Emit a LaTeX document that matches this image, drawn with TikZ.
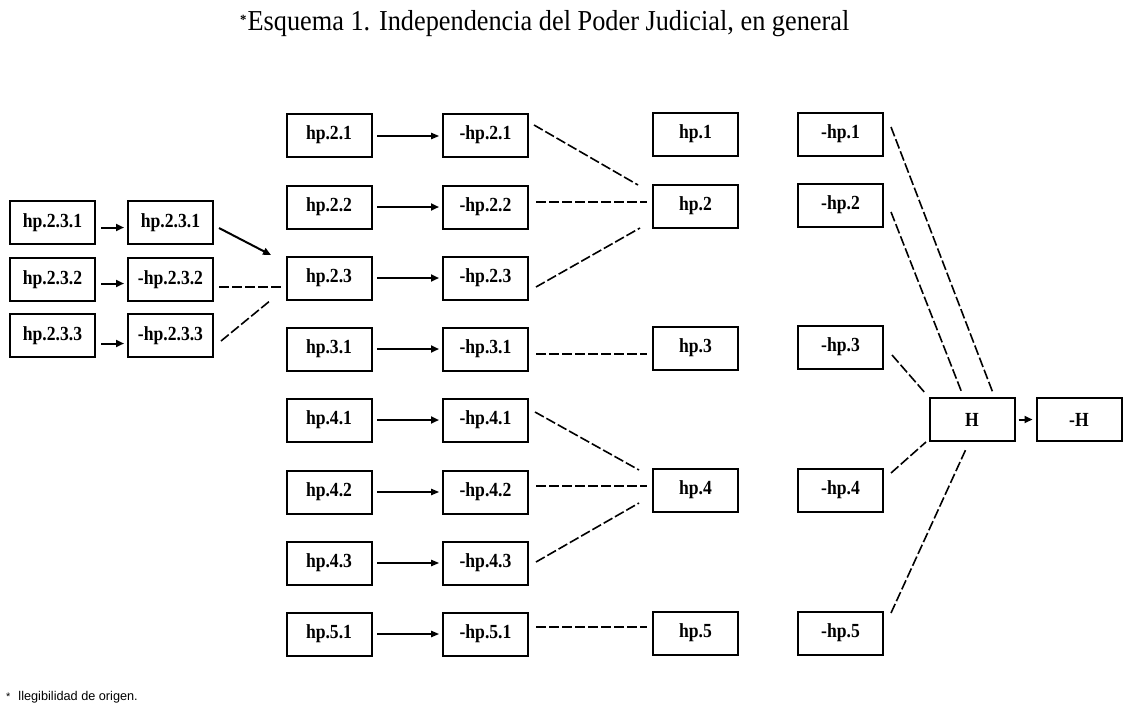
\documentclass[tikz,border=0pt]{standalone}
\usepackage{fontspec}
\setmainfont{Liberation Serif}
\newfontfamily\cond{Liberation Serif}[FakeStretch=0.91]
\newfontfamily\condl{Liberation Serif}[FakeStretch=0.88]
\newfontfamily\sansf{Liberation Sans}
\usetikzlibrary{arrows.meta,calc}
\tikzset{
  box/.style={draw, line width=2pt, minimum width=85pt, minimum height=43pt, inner sep=0pt,
    font=\condl\bfseries\fontsize{20}{20}\selectfont},
  arr/.style={line width=1.2pt, -{Triangle[length=8pt,width=6.5pt]}},
  arrthick/.style={line width=2pt, -{Triangle[length=8pt,width=7pt]}},
  dd/.style={line width=1.6pt, dash pattern=on 10pt off 3pt},
  txt/.style={inner sep=0pt, anchor=base west}
}
\begin{document}
\begin{tikzpicture}[x=1pt,y=-1pt]
\useasboundingbox (0,0) rectangle (1129,709);

\node[txt, font=\cond\fontsize{28.9}{30}\selectfont] (title) at (240,31)
  {\raisebox{6.5pt}{\fontsize{14}{14}\selectfont\bfseries *}\hspace{1pt}Esquema 1. Independencia del Poder Judicial, en general};

% column A
\node[box] (a1) at (52.5,222.5) {hp.2.3.1};
\node[box] (a2) at (52.5,279.5) {hp.2.3.2};
\node[box] (a3) at (52.5,335.5) {hp.2.3.3};
% column B
\node[box] (b1) at (170.5,222.5) {hp.2.3.1};
\node[box] (b2) at (170.5,279.5) {-hp.2.3.2};
\node[box] (b3) at (170.5,335.5) {-hp.2.3.3};
% column C
\node[box] (c21) at (329,135) {hp.2.1};
\node[box] (c22) at (329,207) {hp.2.2};
\node[box] (c23) at (329,278) {hp.2.3};
\node[box] (c31) at (329,349) {hp.3.1};
\node[box] (c41) at (329,420) {hp.4.1};
\node[box] (c42) at (329,492) {hp.4.2};
\node[box] (c43) at (329,563) {hp.4.3};
\node[box] (c51) at (329,634) {hp.5.1};
% column D
\node[box] (d21) at (485.5,135) {-hp.2.1};
\node[box] (d22) at (485.5,207) {-hp.2.2};
\node[box] (d23) at (485.5,278) {-hp.2.3};
\node[box] (d31) at (485.5,349) {-hp.3.1};
\node[box] (d41) at (485.5,420) {-hp.4.1};
\node[box] (d42) at (485.5,492) {-hp.4.2};
\node[box] (d43) at (485.5,563) {-hp.4.3};
\node[box] (d51) at (485.5,634) {-hp.5.1};
% column E
\node[box] (e1) at (695.5,134) {hp.1};
\node[box] (e2) at (695.5,206) {hp.2};
\node[box] (e3) at (695.5,348) {hp.3};
\node[box] (e4) at (695.5,490) {hp.4};
\node[box] (e5) at (695.5,633) {hp.5};
% column F
\node[box] (f1) at (840.5,134) {-hp.1};
\node[box] (f2) at (840.5,205) {-hp.2};
\node[box] (f3) at (840.5,347) {-hp.3};
\node[box] (f4) at (840.5,490) {-hp.4};
\node[box] (f5) at (840.5,633) {-hp.5};
% H
\node[box] (H) at (972,419.5) {H};
\node[box] (nH) at (1079,419.5) {-H};

% A -> B
\draw[arrthick] ($(a1.east)+(5,5)$) -- ($(b1.west)+(-3,5)$);
\draw[arrthick] ($(a2.east)+(5,4)$) -- ($(b2.west)+(-3,4)$);
\draw[arrthick] ($(a3.east)+(5,8)$) -- ($(b3.west)+(-3,8)$);
% B -> C23
\draw[arrthick] ($(b1.east)+(5,5.5)$) -- ($(c23.west)+(-14.5,-23)$);
\draw[dd] ($(b2.east)+(5,7.5)$) -- ($(c23.west)+(-3.5,9)$);
\draw[dd] ($(b3.east)+(7,5.5)$) -- ($(c23.west)+(-14.5,22)$);
% C -> D
\draw[arr]      ($(c21.east)+(4.5,1)$) -- ($(d21.west)+(-3,1)$);
\draw[arrthick] ($(c22.east)+(4.5,0)$) -- ($(d22.west)+(-3,0)$);
\draw[arrthick] ($(c23.east)+(4.5,0)$) -- ($(d23.west)+(-3,0)$);
\draw[arrthick] ($(c31.east)+(4.5,0)$) -- ($(d31.west)+(-3,0)$);
\draw[arrthick] ($(c41.east)+(4.5,0)$) -- ($(d41.west)+(-3,0)$);
\draw[arr]      ($(c42.east)+(4.5,0)$) -- ($(d42.west)+(-3,0)$);
\draw[arr]      ($(c43.east)+(4.5,0)$) -- ($(d43.west)+(-3,0)$);
\draw[arr]      ($(c51.east)+(4.5,0)$) -- ($(d51.west)+(-3,0)$);
% D -> E
\draw[dd] ($(d21.east)+(5,-10)$) -- ($(e2.west)+(-14,-21)$);
\draw[dd] ($(d22.east)+(7,-5)$) -- ($(e2.west)+(-5,-4)$);
\draw[dd] ($(d23.east)+(7,9)$) -- ($(e2.west)+(-12,22)$);
\draw[dd] ($(d31.east)+(7,5)$) -- ($(e3.west)+(-5,6)$);
\draw[dd] ($(d41.east)+(6,-8)$) -- ($(e4.west)+(-13,-20)$);
\draw[dd] ($(d42.east)+(7,-6)$) -- ($(e4.west)+(-5,-4)$);
\draw[dd] ($(d43.east)+(7,-1)$) -- ($(e4.west)+(-13,13)$);
\draw[dd] ($(d51.east)+(7,-7)$) -- ($(e5.west)+(-5,-6)$);
% F -> H
\draw[dd] ($(f1.east)+(7,-7)$) -- ($(H.north)+(21,-4)$);
\draw[dd] ($(f2.east)+(7,7)$) -- ($(H.north)+(-10,-4)$);
\draw[dd] ($(f3.east)+(8,8)$) -- ($(H.north west)+(-2.5,-3)$);
\draw[dd] ($(f4.east)+(7,-17)$) -- ($(H.south west)+(-2.5,0)$);
\draw[dd] ($(f5.east)+(7,-20)$) -- ($(H.south)+(-6,7)$);
% H -> -H
\draw[arrthick] ($(H.east)+(3,0)$) -- ($(nH.west)+(-3,0)$);

\node[txt, font=\sansf\fontsize{12.7}{14}\selectfont] (foot) at (6,700)
  {{\fontsize{11}{11}\selectfont *}\hspace{8pt}llegibilidad de origen.};
\end{tikzpicture}
\end{document}
